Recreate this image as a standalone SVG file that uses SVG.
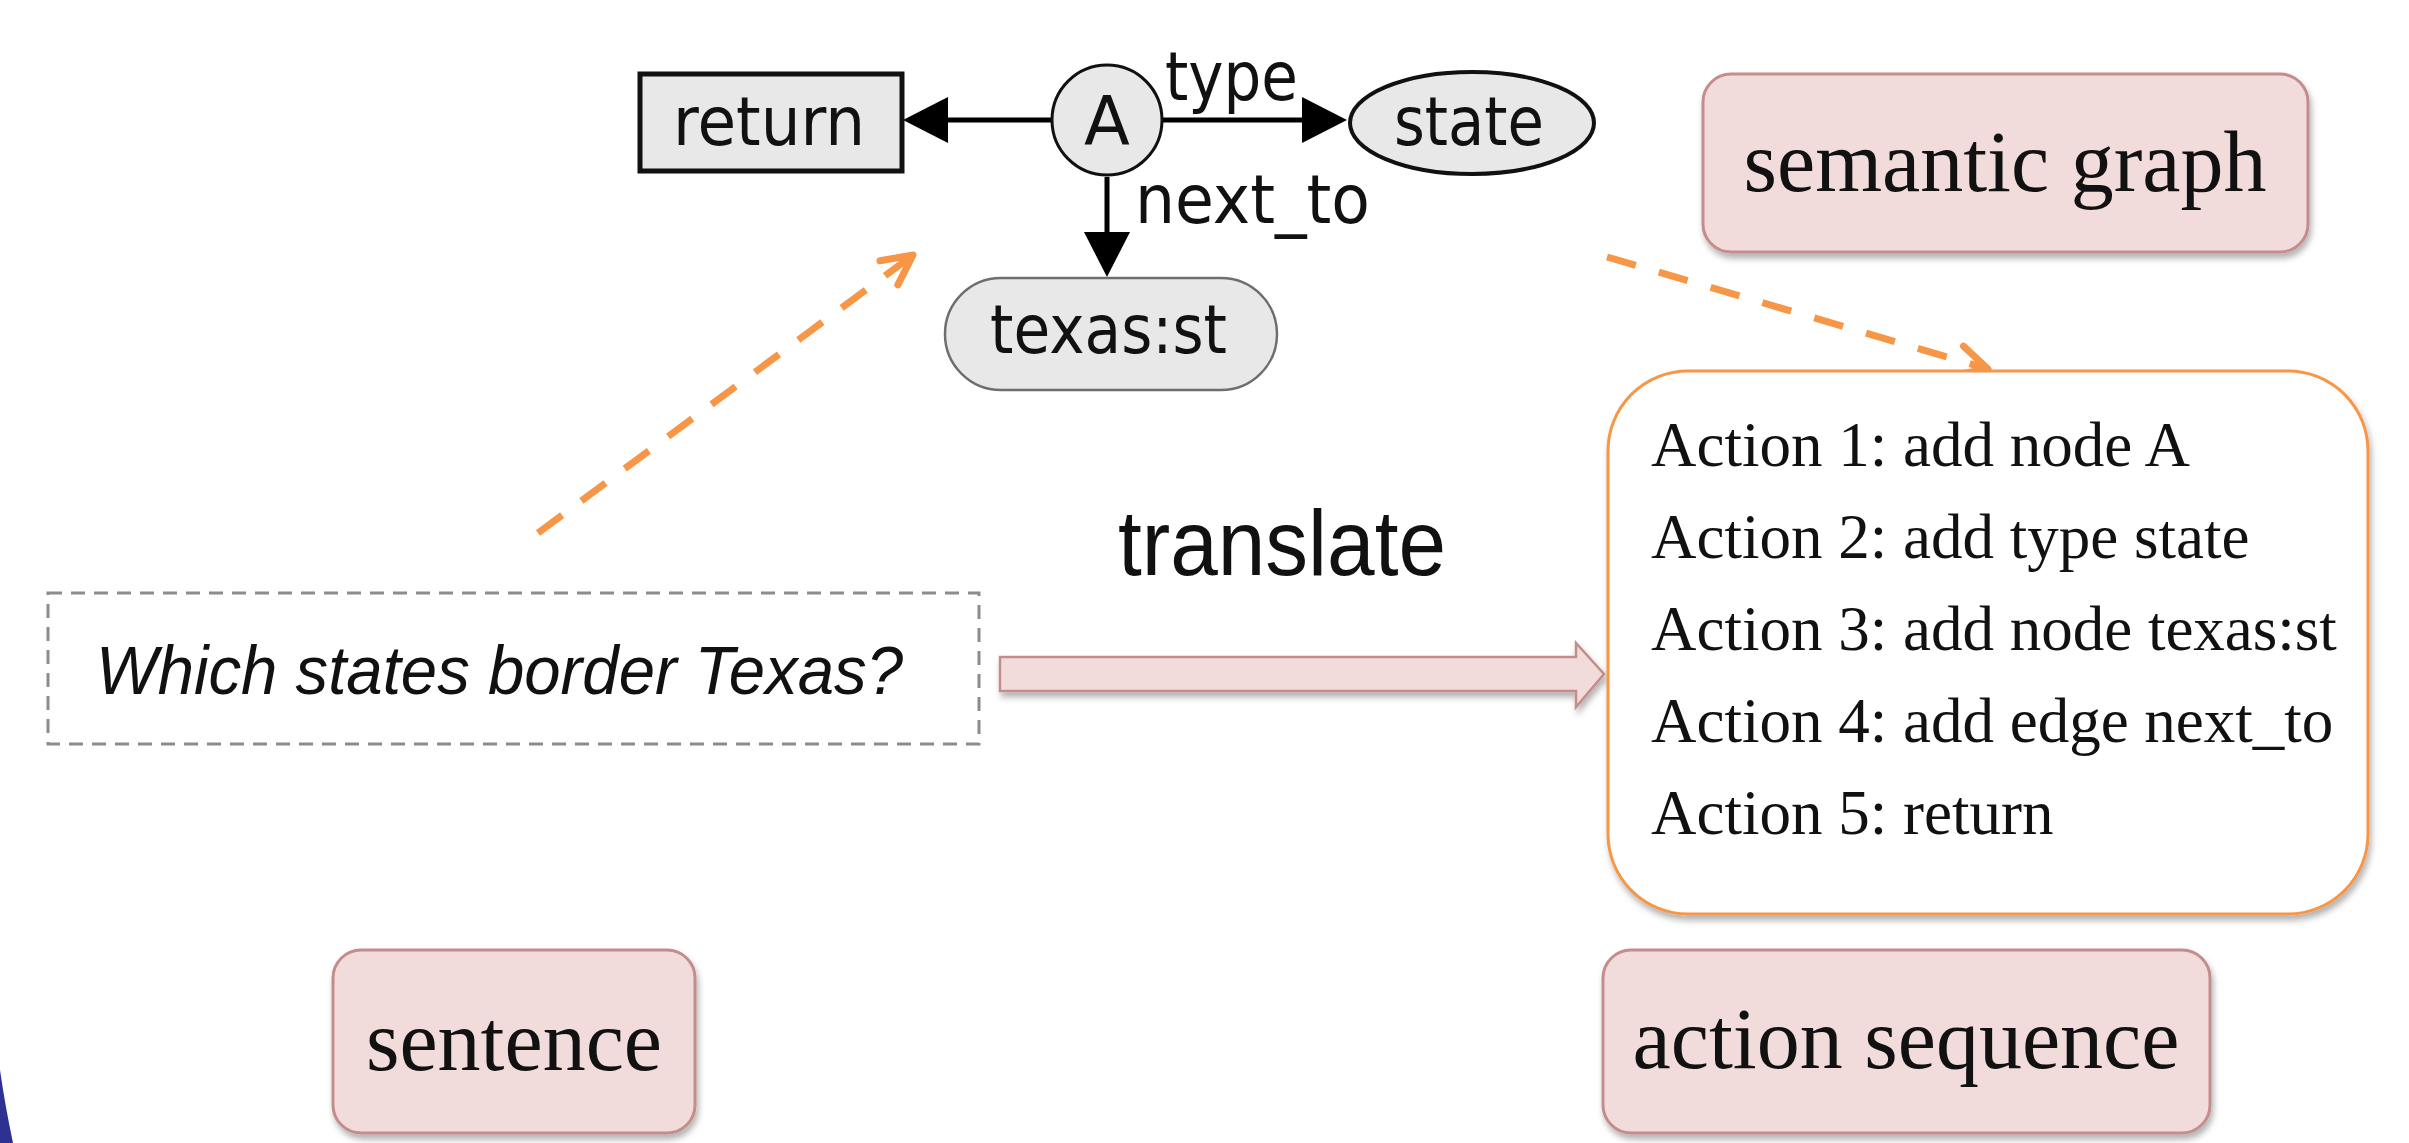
<svg xmlns="http://www.w3.org/2000/svg" width="2409" height="1143" viewBox="0 0 2409 1143">
<style>
.gn{fill:#e8e8e8;stroke:#111;}
.gt{font-family:"DejaVu Sans",sans-serif;font-size:67px;fill:#111;}
.edge{stroke:#000;stroke-width:5;fill:none;}
.dash{stroke:#F79646;stroke-width:7;fill:none;stroke-dasharray:30 24;}
.lbl{fill:#F2DCDB;stroke:#C48C8B;stroke-width:3;}
.lt{font-family:"Liberation Serif",serif;font-size:86px;fill:#111;text-anchor:middle;}
.act{font-family:"Liberation Serif",serif;font-size:63px;fill:#111;}
</style>
<defs>
<marker id="tri" markerUnits="userSpaceOnUse" markerWidth="46" markerHeight="48" refX="0" refY="23" orient="auto" overflow="visible">
<path d="M0,0 L45,23 L0,46 Z" fill="#000"/>
</marker>
<marker id="vee" markerUnits="userSpaceOnUse" markerWidth="40" markerHeight="40" refX="0" refY="0" orient="auto" overflow="visible">
<path d="M-30,-15 L0,0 L-30,15" fill="none" stroke="#F79646" stroke-width="7" stroke-linecap="round" stroke-linejoin="round"/>
</marker>
<filter id="sh" x="-10%" y="-10%" width="125%" height="135%">
<feDropShadow dx="2" dy="5" stdDeviation="3" flood-color="#000" flood-opacity="0.3"/>
</filter>
</defs>
<rect x="0" y="0" width="2409" height="1143" fill="#fff"/>
<path d="M0,1070 Q5,1105 13,1143 L0,1143 Z" fill="#2e3092"/>

<g id="connectors">
<line class="edge" x1="1052" y1="120" x2="948" y2="120" marker-end="url(#tri)"/>
<line class="edge" x1="1162" y1="120" x2="1302" y2="120" marker-end="url(#tri)"/>
<line class="edge" x1="1107" y1="177" x2="1107" y2="232" marker-end="url(#tri)"/>
<text class="gt" x="1165" y="100" textLength="133" lengthAdjust="spacingAndGlyphs">type</text>
<text class="gt" x="1135" y="223" textLength="235" lengthAdjust="spacingAndGlyphs">next_to</text>
<line class="dash" x1="538" y1="533" x2="913" y2="255" marker-end="url(#vee)"/>
<line class="dash" x1="1607" y1="257" x2="1988" y2="369" marker-end="url(#vee)"/>
<path id="translate-arrow" d="M1000,657 L1576,657 L1576,643 L1604,674 L1576,707 L1576,691 L1000,691 Z" fill="#F2DCDB" stroke="#C48C8B" stroke-width="2.5" filter="url(#sh)"/>
<text x="1118" y="575" font-family="'Liberation Sans',sans-serif" font-size="92" textLength="328" lengthAdjust="spacingAndGlyphs" fill="#111">translate</text>
</g>

<g id="node-return">
<rect class="gn" x="640" y="74" width="262" height="97" stroke-width="5"/>
<text class="gt" x="673" y="145" textLength="192" lengthAdjust="spacingAndGlyphs">return</text>
</g>
<g id="node-A">
<circle class="gn" cx="1107" cy="120" r="55" stroke-width="3"/>
<text class="gt" x="1107" y="145" text-anchor="middle" font-size="64">A</text>
</g>
<g id="node-state">
<ellipse class="gn" cx="1472" cy="123" rx="122" ry="51" stroke-width="4"/>
<text class="gt" x="1394" y="145" textLength="150" lengthAdjust="spacingAndGlyphs">state</text>
</g>
<g id="node-texas">
<rect x="945" y="278" width="332" height="112" rx="56" fill="#e8e8e8" stroke="#6e6e6e" stroke-width="2.5"/>
<text class="gt" x="990" y="353" textLength="237" lengthAdjust="spacingAndGlyphs">texas:st</text>
</g>

<g id="node-semantic-graph">
<rect class="lbl" x="1703" y="74" width="605" height="178" rx="28" filter="url(#sh)"/>
<text class="lt" x="2005" y="191">semantic graph</text>
</g>

<g id="node-question">
<rect x="48" y="593" width="931" height="151" fill="#fff" stroke="#8c8c8c" stroke-width="3" stroke-dasharray="14 9"/>
<text x="96" y="694" font-family="'Liberation Sans',sans-serif" font-style="italic" font-size="68" textLength="807" lengthAdjust="spacingAndGlyphs" fill="#111">Which states border Texas?</text>
</g>

<g id="node-actions">
<rect x="1608" y="371" width="760" height="543" rx="80" fill="#fff" stroke="#F79646" stroke-width="3" filter="url(#sh)"/>
<text class="act" x="1651" y="466">Action 1: add node A</text>
<text class="act" x="1651" y="558">Action 2: add type state</text>
<text class="act" x="1651" y="650">Action 3: add node texas:st</text>
<text class="act" x="1651" y="742">Action 4: add edge next_to</text>
<text class="act" x="1651" y="834">Action 5: return</text>
</g>

<g id="node-sentence">
<rect class="lbl" x="333" y="950" width="362" height="183" rx="28" filter="url(#sh)"/>
<text class="lt" x="514" y="1070">sentence</text>
</g>

<g id="node-action-sequence">
<rect class="lbl" x="1603" y="950" width="607" height="183" rx="28" filter="url(#sh)"/>
<text class="lt" x="1906" y="1068">action sequence</text>
</g>
</svg>
